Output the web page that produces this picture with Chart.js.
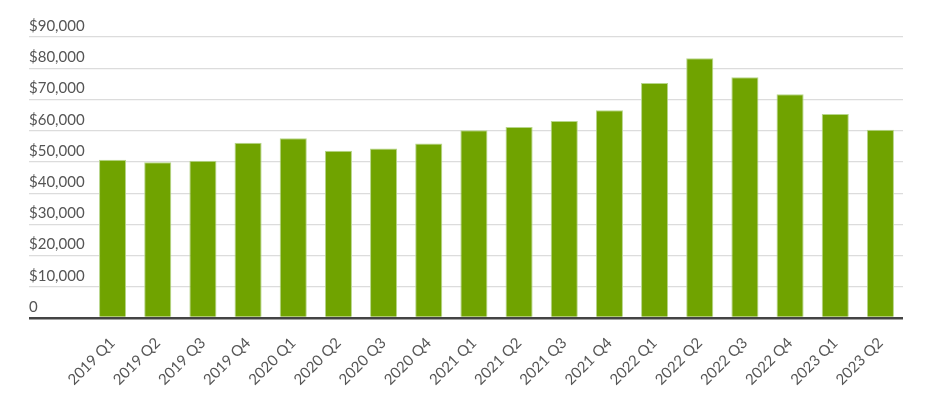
<!DOCTYPE html>
<html>
<head>
<meta charset="utf-8">
<script src="https://cdn.jsdelivr.net/npm/chart.js@4"></script>
<style>
  html, body { margin: 0; padding: 0; background: #fff; }
  #c { display: block; }
</style>
</head>
<body>
<canvas id="c" width="935" height="399"></canvas>
<script>
const categories = ['2019 Q1','2019 Q2','2019 Q3','2019 Q4','2020 Q1','2020 Q2','2020 Q3','2020 Q4',
  '2021 Q1','2021 Q2','2021 Q3','2021 Q4','2022 Q1','2022 Q2','2022 Q3','2022 Q4','2023 Q1','2023 Q2'];
const values = [50700, 49900, 50400, 56100, 57600, 53600, 54300, 55900,
  60100, 61200, 63100, 66500, 75300, 83200, 77100, 71700, 65300, 60300];
const yTickValues = [0, 10000, 20000, 30000, 40000, 50000, 60000, 70000, 80000, 90000];
const yTickLabels = ['0', '$10,000', '$20,000', '$30,000', '$40,000', '$50,000', '$60,000', '$70,000', '$80,000', '$90,000'];

const FONT = 'Lato, "Open Sans", sans-serif';

new Chart(document.getElementById('c'), {
  type: 'bar',
  data: {
    labels: categories,
    datasets: [{
      data: values,
      backgroundColor: '#70a300',
      borderColor: '#b7d68a',
      borderWidth: 1,
      borderSkipped: 'bottom',
      barPercentage: 0.6,
      categoryPercentage: 1.0
    }]
  },
  options: {
    responsive: false,
    animation: false,
    layout: { padding: { left: 29, right: 32, top: 37, bottom: 0 } },
    plugins: { legend: { display: false }, tooltip: { enabled: false } },
    scales: {
      x: {
        grid: { display: false },
        border: { display: false },
        ticks: {
          color: '#555',
          font: { family: FONT, size: 15 },
          minRotation: 45,
          maxRotation: 45,
          padding: 8,
          autoSkip: false
        },
        afterFit(scale) { scale.height = 81; }
      },
      y: {
        min: 0,
        max: 90000,
        border: { display: false },
        grid: {
          color: (ctx) => (ctx.tick && ctx.tick.value === 0) ? '#444' : '#dcdcdc',
          lineWidth: (ctx) => (ctx.tick && ctx.tick.value === 0) ? 2.5 : 1.2,
          tickLength: 61,
          drawTicks: true
        },
        afterBuildTicks(scale) { scale.ticks = yTickValues.map(v => ({ value: v })); },
        ticks: {
          color: '#555',
          font: { family: FONT, size: 15 },
          crossAlign: 'far',
          labelOffset: -11,
          padding: 0,
          callback: (v) => yTickLabels[yTickValues.indexOf(v)]
        },
        afterFit(scale) { scale.width = 61; }
      }
    }
  }
});
</script>
</body>
</html>
